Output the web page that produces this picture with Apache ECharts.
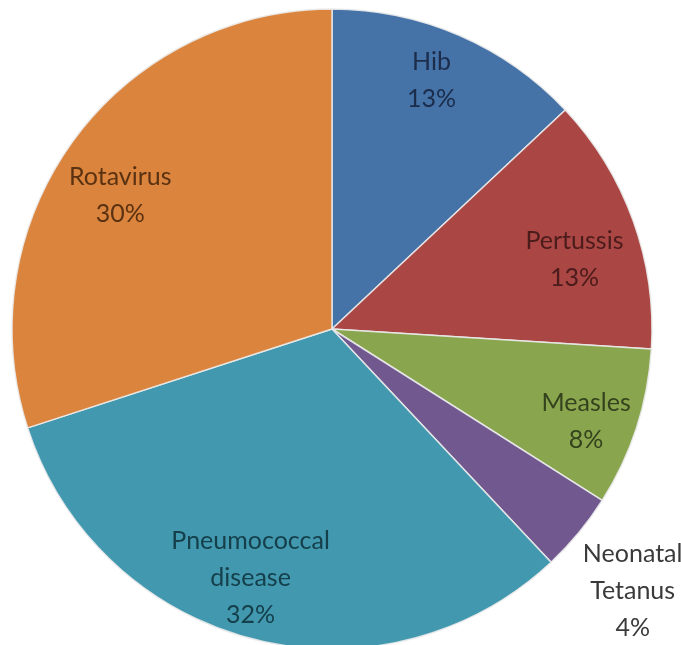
<!DOCTYPE html>
<html>
<head>
<meta charset="utf-8">
<script src="https://cdn.jsdelivr.net/npm/echarts@6/dist/echarts.min.js"></script>
<style>
  html, body { margin: 0; padding: 0; background: #fff; }
  #chart { width: 681px; height: 645px; }
</style>
</head>
<body>
<div id="chart"></div>
<script>
// slices in clockwise order from 12 o'clock
const categories = ['Hib', 'Pertussis', 'Measles', 'Neonatal\nTetanus', 'Pneumococcal\ndisease', 'Rotavirus']
const shares = [13, 13, 8, 4, 32, 30]
const sliceColors = ['#4572A7', '#AA4643', '#89A54E', '#71588F', '#4198AF', '#DB843D']
const textColors = ['#1c2d4c', '#4b1c1b', '#34431d', '#3a3a3a', '#15404b', '#5a3212']
// small nudges so labels land where the original "best fit" put them
const labelNudge = [[-5, -7], [-5, 20], [4, 11], [98, 94], [-16, -6], [1, 21]]

const chart = echarts.init(document.getElementById('chart'))

const pieData = categories.map((name, i) => ({
  name: name,
  value: shares[i],
  itemStyle: { color: sliceColors[i] }
}))

// transparent twin pie, only used to place the labels further out than r/2
const labelData = categories.map((name, i) => ({
  name: name,
  value: shares[i],
  itemStyle: { color: 'rgba(0,0,0,0)' },
  label: { color: textColors[i], offset: labelNudge[i] }
}))

const option = {
  animation: false,
  series: [{
    type: 'pie',
    center: [332, 329],
    radius: [0, 320],
    startAngle: 90,
    clockwise: true,
    silent: true,
    label: { show: false },
    labelLine: { show: false },
    itemStyle: {
      borderColor: 'rgba(235,235,235,0.9)',
      borderWidth: 1.5
    },
    data: pieData
  }, {
    type: 'pie',
    center: [332, 329],
    radius: [0, 520],
    startAngle: 90,
    clockwise: true,
    silent: true,
    z: 3,
    labelLine: { show: false },
    label: {
      show: true,
      position: 'inside',
      formatter: '{b}\n{c}%',
      fontFamily: 'Lato',
      fontSize: 25,
      lineHeight: 37,
      align: 'center'
    },
    data: labelData
  }]
}

chart.setOption(option)
</script>
</body>
</html>
